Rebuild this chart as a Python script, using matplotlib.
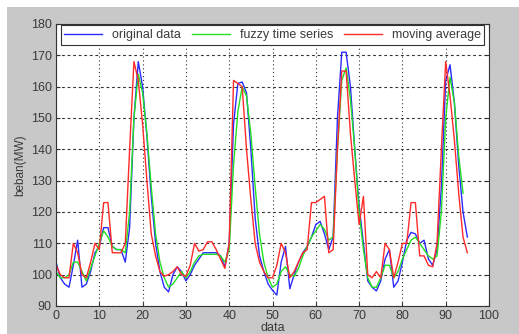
import matplotlib
matplotlib.use("Agg")
import matplotlib.pyplot as plt
from matplotlib.patches import Rectangle

# beban (MW) per data index
original = [104, 99, 97, 96, 103, 111, 96, 97, 101, 107,
            109, 115, 115, 109, 108, 108, 104, 115, 150, 168,
            160, 144, 125, 110, 101, 96, 94.5, 100, 102.5, 101,
            98, 100, 103, 105, 107, 107, 107, 107, 106, 102.5,
            110, 148, 161, 161.5, 158, 140, 118, 106, 101, 97,
            95, 93.5, 104, 109, 95.5, 100, 104, 107, 109, 112,
            116, 117, 113, 108, 112, 150, 171, 171, 160, 140,
            122, 110, 98, 96, 94.8, 98, 105, 108, 96, 98,
            104, 111, 113.5, 113, 110, 111, 105, 103, 108, 128,
            162, 167, 155, 135, 120, 112]
fuzzy = [101, 99, 99, 100, 104, 104, 101, 98, 102, 106,
         110, 114, 112, 109, 108, 108, 107, 120, 150, 164,
         158, 145, 128, 113, 104, 99, 96, 97, 99, 101,
         99, 101, 104, 106, 106.5, 106.5, 106.5, 106.5, 106, 104,
         108, 135, 152, 160, 157, 145, 128, 113, 104, 99,
         96, 97, 101, 102.5, 100, 99.5, 102, 106, 109, 112,
         114, 116, 114.5, 111, 112, 140, 162, 166, 156, 140,
         120, 108, 99, 96, 96, 99, 103, 103, 99, 101,
         105, 108, 111, 112, 110, 108, 106, 105, 106, 120,
         150, 163, 155, 138, 126]
moving_avg = [103, 100, 99, 99, 110, 107, 100, 99, 104, 110,
              108, 123, 123, 107, 107, 107, 110, 140, 168, 162,
              148, 130, 113, 106, 101, 99.5, 100, 101, 102.5, 100,
              99.5, 103, 110, 107.5, 108, 110.5, 110.5, 108, 105, 102,
              110, 162, 161, 160, 140, 124, 110, 104, 101, 99,
              99, 103, 110, 107, 99, 101, 104, 107, 108, 123,
              123, 124, 125, 107, 108, 140, 165, 165, 145, 130,
              116, 125, 100, 99, 101, 99, 110, 108, 99, 104,
              110, 110, 123, 123, 106, 106, 103, 102.5, 110, 140,
              168, 157, 143, 126, 112, 107]

x_ticks = list(range(0, 101, 10))
y_ticks = list(range(90, 181, 10))

FONT = "Liberation Sans"
TEXT_COLOR = "#3a3a3a"

fig = plt.figure(figsize=(5.19, 3.34), dpi=100)
fig.patch.set_facecolor("white")
# grey MATLAB-style window background
fig.patches.append(Rectangle((7 / 519, 0), 1, 1 - 7 / 334, transform=fig.transFigure,
                             facecolor="#c8c8c8", edgecolor="none", zorder=-10))

ax = fig.add_axes([56 / 519, 1 - 306 / 334, (489 - 56) / 519, (306 - 24) / 334])
ax.set_facecolor("white")

ax.plot(range(len(original)), original, color="#2b2bff", linewidth=1.0, label="original data")
ax.plot(range(len(fuzzy)), fuzzy, color="#22e022", linewidth=1.0, label="fuzzy time series")
ax.plot(range(len(moving_avg)), moving_avg, color="#ff2a2a", linewidth=1.0, label="moving average")

ax.set_xlim(0, 100)
ax.set_ylim(90, 180)
ax.set_xticks(x_ticks)
ax.set_yticks(y_ticks)
ax.tick_params(direction="in", top=True, right=True, length=3, labelsize=9,
               labelcolor=TEXT_COLOR, color="#333333", pad=3)
for lab in ax.get_xticklabels() + ax.get_yticklabels():
    lab.set_fontfamily(FONT)

ax.xaxis.grid(True, color="#333333", linestyle=(0, (1, 2.5)), linewidth=0.8)
ax.yaxis.grid(True, color="#333333", linestyle=(0, (2.5, 2.5)), linewidth=0.8)
for sp in ax.spines.values():
    sp.set_color("#333333")
    sp.set_linewidth(0.8)

ax.set_xlabel("data", fontsize=9, family=FONT, color=TEXT_COLOR, labelpad=0)
ax.set_ylabel("beban(MW)", fontsize=8.5, family=FONT, color=TEXT_COLOR, labelpad=3)

leg = ax.legend(ncol=3, loc="upper center", bbox_to_anchor=(0.5, 1.0),
                prop={"family": FONT, "size": 9},
                handlelength=3.0, columnspacing=0.9, handletextpad=0.8,
                borderpad=0.3, fancybox=False, framealpha=1, borderaxespad=0.1)
leg.get_frame().set_edgecolor("#333333")
leg.get_frame().set_linewidth(0.8)
for t in leg.get_texts():
    t.set_color(TEXT_COLOR)

fig.savefig("out.png", dpi=100, facecolor=fig.get_facecolor())
